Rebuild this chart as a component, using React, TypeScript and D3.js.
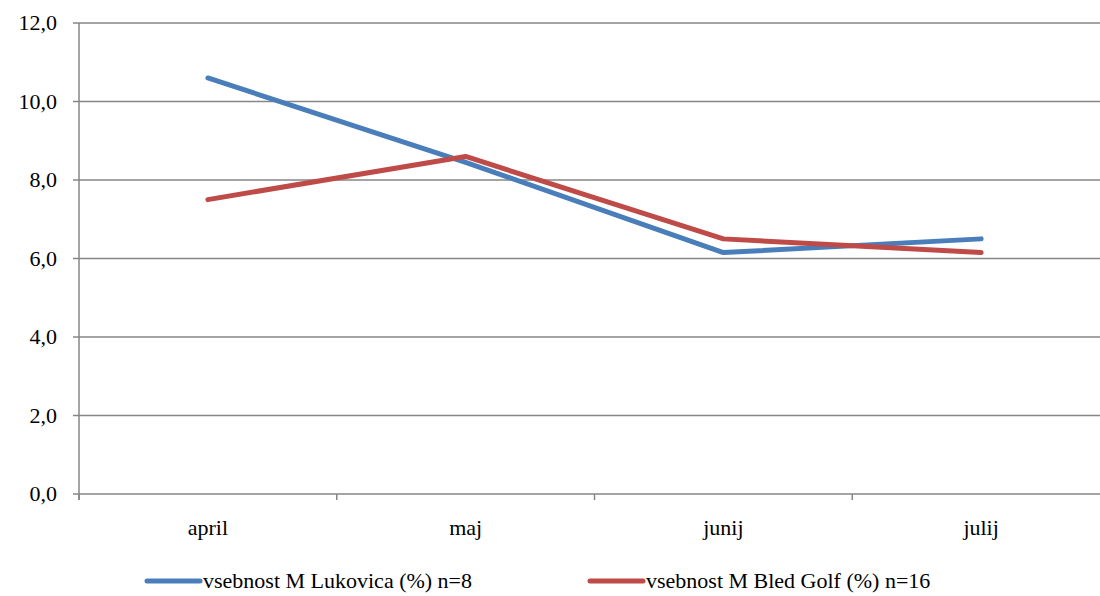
import React from "react";
import * as d3 from "d3";

const categories = ["april", "maj", "junij", "julij"];
const lukovica = [10.6, 8.45, 6.15, 6.5];
const bledGolf = [7.5, 8.6, 6.5, 6.15];
const yTicks = [0, 2, 4, 6, 8, 10, 12];
const seriesNames = ["vsebnost M Lukovica (%) n=8", "vsebnost M Bled Golf (%) n=16"];
const colors = ["#4a7ebb", "#be4b48"];

export default function App() {
  const W = 1100, H = 596;
  const left = 79, right = 1110, top = 23, bottom = 494;
  const x = d3.scaleBand<string>().domain(categories).range([left, right]);
  const y = d3.scaleLinear().domain([0, 12]).range([bottom, top]);
  const line = d3.line<number>().x((_, i) => x(categories[i])! + x.bandwidth() / 2).y(d => y(d));
  const ts = { fontFamily: "Liberation Serif", fontSize: "22px" };
  const series = [lukovica, bledGolf];
  const ticksX = [...categories.map(c => x(c)!), right];
  return (
    <svg width={W} height={H} style={{ position: "absolute", left: 0, top: 0 }}>
      <rect width={W} height={H} fill="#fff" />
      {yTicks.map(t => (
        <g key={t}>
          <line x1={left - 6} x2={W} y1={y(t)} y2={y(t)} stroke="#868686" strokeWidth={1.5} />
          <text x={57} y={y(t) + 7} textAnchor="end" style={ts} fill="#000">
            {t.toFixed(1).replace(".", ",")}
          </text>
        </g>
      ))}
      <line x1={left} x2={left} y1={top} y2={bottom + 6} stroke="#868686" strokeWidth={1.5} />
      {ticksX.map((tx, i) => (
        <line key={i} x1={tx} x2={tx} y1={bottom} y2={bottom + 6} stroke="#868686" strokeWidth={1.5} />
      ))}
      {categories.map(c => (
        <text key={c} x={x(c)! + x.bandwidth() / 2} y={535} textAnchor="middle" style={ts} fill="#000">{c}</text>
      ))}
      {series.map((s, i) => (
        <path key={i} d={line(s)!} fill="none" stroke={colors[i]} strokeWidth={5} strokeLinecap="round" strokeLinejoin="round" />
      ))}
      {[147, 590].map((lx, i) => (
        <g key={i}>
          <line x1={lx} x2={lx + 53} y1={581} y2={581} stroke={colors[i]} strokeWidth={5} strokeLinecap="round" />
          <text x={lx + 56} y={588} style={ts} fill="#000">{seriesNames[i]}</text>
        </g>
      ))}
    </svg>
  );
}
